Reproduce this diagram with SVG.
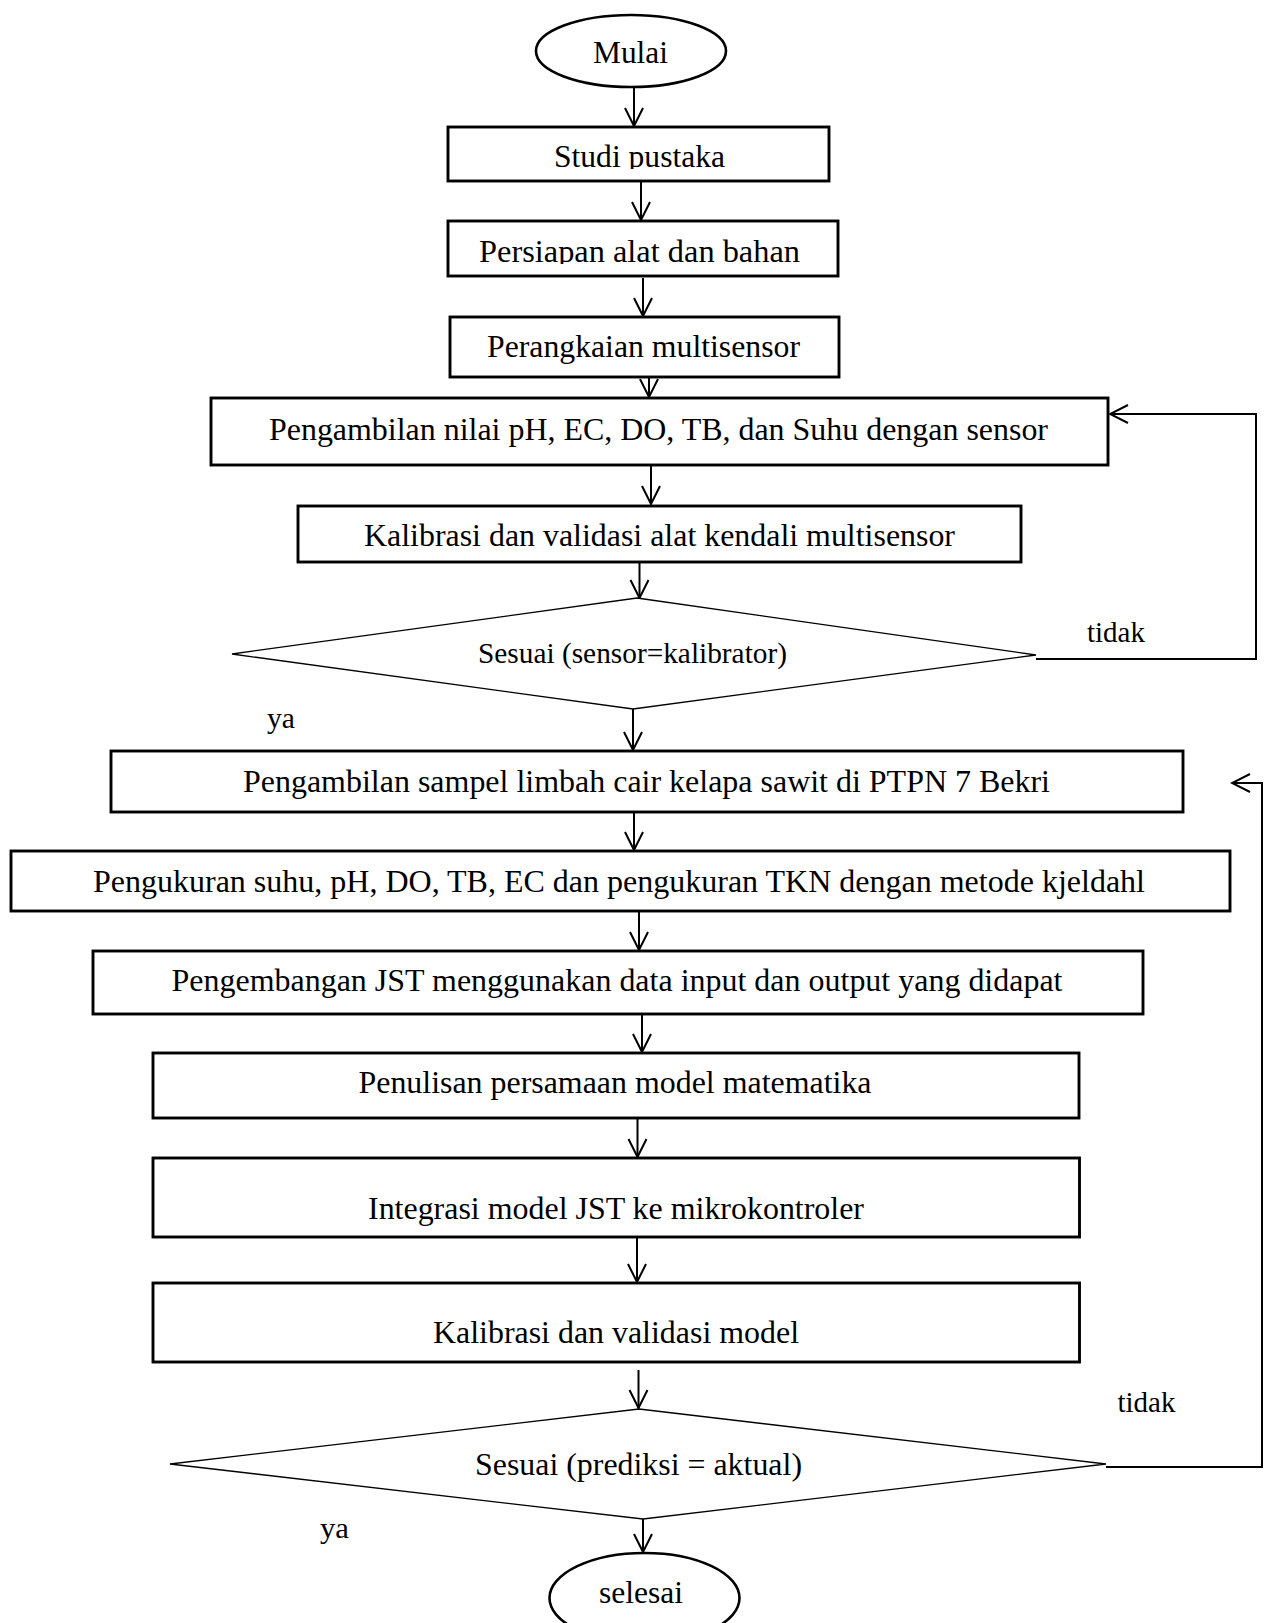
<svg xmlns="http://www.w3.org/2000/svg" width="1269" height="1623" viewBox="0 0 1269 1623">
<style>
  .box { fill: #fff; stroke: #000; stroke-width: 2.9; }
  .term { fill: #fff; stroke: #000; stroke-width: 2.6; }
  .dia { fill: #fff; stroke: #000; stroke-width: 1.3; }
  .t { font-family: "Liberation Serif", "Times New Roman", serif; font-size: 31px; fill: #000; }
  .lbl { font-family: "Liberation Serif", "Times New Roman", serif; font-size: 29px; fill: #000; }
  .conn { fill: none; stroke: #000; stroke-width: 2; }
</style>
<defs>
  <marker id="ah" viewBox="-22 -11 24 22" refX="0" refY="0" markerWidth="24" markerHeight="22" markerUnits="userSpaceOnUse" orient="auto">
    <path d="M-18,-9 L0,0 L-18,9" fill="none" stroke="#000" stroke-width="2"/>
  </marker>
  <clipPath id="clipStudi"><rect x="448" y="127" width="381" height="42"/></clipPath>
  <clipPath id="clipPersiapan"><rect x="448" y="221" width="390" height="43"/></clipPath>
</defs>
<rect x="0" y="0" width="1269" height="1623" fill="#fff"/>

<g id="connectors">
  <path class="conn" d="M634,87 V126" marker-end="url(#ah)"/>
  <path class="conn" d="M641,181 V220" marker-end="url(#ah)"/>
  <path class="conn" d="M643,278 V316" marker-end="url(#ah)"/>
  <path class="conn" d="M649,377 V397" marker-end="url(#ah)"/>
  <path class="conn" d="M651,466 V504" marker-end="url(#ah)"/>
  <path class="conn" d="M639.5,562 V598" marker-end="url(#ah)"/>
  <path class="conn" d="M633,709 V750" marker-end="url(#ah)"/>
  <path class="conn" d="M634,813 V850" marker-end="url(#ah)"/>
  <path class="conn" d="M639,911 V950" marker-end="url(#ah)"/>
  <path class="conn" d="M642,1014 V1052" marker-end="url(#ah)"/>
  <path class="conn" d="M637.5,1118 V1157" marker-end="url(#ah)"/>
  <path class="conn" d="M637,1237 V1282" marker-end="url(#ah)"/>
  <path class="conn" d="M638.5,1370 V1408" marker-end="url(#ah)"/>
  <path class="conn" d="M643,1519 V1552" marker-end="url(#ah)"/>
  <path class="conn" d="M1036,659 H1256 V414 H1110" marker-end="url(#ah)"/>
  <path class="conn" d="M1106,1467 H1262 V783 H1232" marker-end="url(#ah)"/>
</g>

<g id="n-mulai">
  <ellipse class="term" cx="631" cy="51" rx="95" ry="36"/>
  <text class="t" x="593" y="63" textLength="75" lengthAdjust="spacingAndGlyphs">Mulai</text>
</g>
<g id="n-studi">
  <rect class="box" x="448" y="127" width="381" height="54"/>
  <text class="t" x="554" y="167" textLength="171" lengthAdjust="spacingAndGlyphs" clip-path="url(#clipStudi)">Studi pustaka</text>
</g>
<g id="n-persiapan">
  <rect class="box" x="448" y="221" width="390" height="55"/>
  <text class="t" x="479" y="262" textLength="321" lengthAdjust="spacingAndGlyphs" clip-path="url(#clipPersiapan)">Persiapan alat dan bahan</text>
</g>
<g id="n-perangkaian">
  <rect class="box" x="450" y="317" width="389" height="60"/>
  <text class="t" x="487" y="357" textLength="313" lengthAdjust="spacingAndGlyphs">Perangkaian multisensor</text>
</g>
<g id="n-pengambilan-nilai">
  <rect class="box" x="211" y="398" width="897" height="67"/>
  <text class="t" x="269" y="440" textLength="779" lengthAdjust="spacingAndGlyphs">Pengambilan nilai pH, EC, DO, TB, dan Suhu dengan sensor</text>
</g>
<g id="n-kalibrasi-alat">
  <rect class="box" x="298" y="506" width="723" height="56"/>
  <text class="t" x="364" y="546" textLength="591" lengthAdjust="spacingAndGlyphs">Kalibrasi dan validasi alat kendali multisensor</text>
</g>
<g id="n-sesuai-1">
  <polygon class="dia" points="637,598 1036,655 633,709 232,654"/>
  <text class="t" x="478" y="663" style="font-size:29.5px" textLength="309" lengthAdjust="spacingAndGlyphs">Sesuai (sensor=kalibrator)</text>
  <text class="lbl" x="1087" y="642" textLength="58" lengthAdjust="spacingAndGlyphs">tidak</text>
  <text class="lbl" x="267" y="728" textLength="28" lengthAdjust="spacingAndGlyphs">ya</text>
</g>
<g id="n-pengambilan-sampel">
  <rect class="box" x="111" y="751" width="1072" height="61"/>
  <text class="t" x="243" y="792" textLength="807" lengthAdjust="spacingAndGlyphs">Pengambilan sampel limbah cair kelapa sawit di PTPN 7 Bekri</text>
</g>
<g id="n-pengukuran">
  <rect class="box" x="11" y="851" width="1219" height="60"/>
  <text class="t" x="93" y="892" textLength="1052" lengthAdjust="spacingAndGlyphs">Pengukuran suhu, pH, DO, TB, EC dan pengukuran TKN dengan metode kjeldahl</text>
</g>
<g id="n-pengembangan">
  <rect class="box" x="93" y="951" width="1050" height="63"/>
  <text class="t" x="171.5" y="991" textLength="891" lengthAdjust="spacingAndGlyphs">Pengembangan JST menggunakan data input dan output yang didapat</text>
</g>
<g id="n-penulisan">
  <rect class="box" x="153" y="1053" width="926" height="65"/>
  <text class="t" x="358.5" y="1093" textLength="513" lengthAdjust="spacingAndGlyphs">Penulisan persamaan model matematika</text>
</g>
<g id="n-integrasi">
  <rect class="box" x="153" y="1158" width="926.5" height="79"/>
  <text class="t" x="368" y="1219" textLength="496" lengthAdjust="spacingAndGlyphs">Integrasi model JST ke mikrokontroler</text>
</g>
<g id="n-kalibrasi-model">
  <rect class="box" x="153" y="1283" width="926.5" height="79"/>
  <text class="t" x="433" y="1343" textLength="366" lengthAdjust="spacingAndGlyphs">Kalibrasi dan validasi model</text>
</g>
<g id="n-sesuai-2">
  <polygon class="dia" points="639,1409 1106,1464 643,1519 170,1464"/>
  <text class="t" x="475" y="1475" textLength="327" lengthAdjust="spacingAndGlyphs">Sesuai (prediksi = aktual)</text>
  <text class="lbl" x="1117.5" y="1412" textLength="58" lengthAdjust="spacingAndGlyphs">tidak</text>
  <text class="lbl" x="320" y="1538" textLength="29" lengthAdjust="spacingAndGlyphs">ya</text>
</g>
<g id="n-selesai">
  <ellipse class="term" cx="644.5" cy="1598" rx="95" ry="45"/>
  <text class="t" x="599" y="1603" textLength="84" lengthAdjust="spacingAndGlyphs">selesai</text>
</g>
</svg>
